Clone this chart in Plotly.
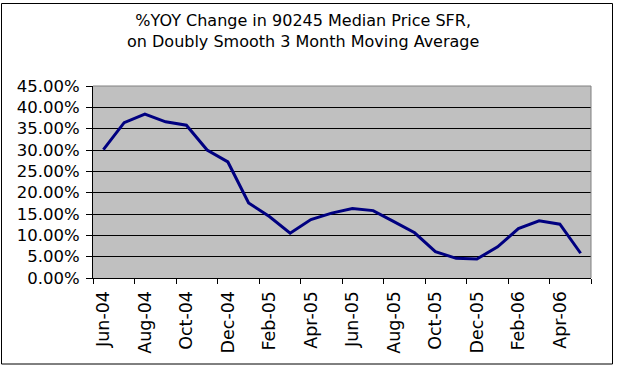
import plotly.graph_objects as go

months = ["Jun-04","Jul-04","Aug-04","Sep-04","Oct-04","Nov-04","Dec-04",
          "Jan-05","Feb-05","Mar-05","Apr-05","May-05","Jun-05","Jul-05",
          "Aug-05","Sep-05","Oct-05","Nov-05","Dec-05","Jan-06","Feb-06",
          "Mar-06","Apr-06","May-06"]
yoy_pct = [30.1, 36.4, 38.4, 36.6, 35.8, 30.0, 27.2, 17.6, 14.4, 10.5, 13.7,
           15.2, 16.3, 15.8, 13.2, 10.6, 6.2, 4.6, 4.45, 7.3, 11.6, 13.4,
           12.6, 5.8]
title_lines = ["%YOY Change in 90245 Median Price SFR,",
               "on Doubly Smooth 3 Month Moving Average"]

W, H = 619, 371
plot_left, plot_right, plot_top, plot_bottom = 93, 591, 86, 278
L = plot_left
T = plot_top
R = W - plot_right
B = H - plot_bottom
pw, ph = plot_right - plot_left, plot_bottom - plot_top


def px(x):
    return (x - plot_left) / pw


def py(y):
    return (plot_bottom - y) / ph


idx = list(range(len(months)))
vals = [v / 100 for v in yoy_pct]

fig = go.Figure(go.Scatter(
    x=idx, y=vals, mode="lines",
    line=dict(color="#000080", width=3),
    hoverinfo="skip"))

fig.update_layout(
    width=W, height=H,
    margin=dict(l=L, r=R, t=T, b=B, pad=0, autoexpand=False),
    paper_bgcolor="white", plot_bgcolor="#C0C0C0",
    showlegend=False,
    font=dict(family="DejaVu Sans", size=16, color="black"),
    xaxis=dict(
        range=[-0.5, len(months) - 0.5],
        tickmode="array",
        tickvals=idx[::2], ticktext=months[::2],
        tickangle=-90, ticks="", ticklen=0,
        showgrid=False, zeroline=False,
        showline=True, linecolor="black", linewidth=1,
        tickfont=dict(family="DejaVu Sans", size=17.5, color="black"),
        ticklabelstandoff=5,
        minor=dict(tickmode="array",
                   tickvals=[i - 0.5 for i in range(0, len(months) + 1, 2)],
                   ticks="outside", ticklen=5, tickcolor="black",
                   tickwidth=1, showgrid=False),
    ),
    yaxis=dict(
        range=[0, 0.45], tickmode="linear", tick0=0, dtick=0.05,
        tickformat=".2%",
        ticks="outside", ticklen=6, tickcolor="black", tickwidth=1,
        showgrid=True, gridcolor="black", gridwidth=1,
        zeroline=False,
        showline=True, linecolor="black", linewidth=1,
        tickfont=dict(family="DejaVu Sans", size=16.5, color="black"),
        ticklabelstandoff=3,
    ),
    annotations=[dict(
        text="<br>".join(title_lines),
        xref="paper", yref="paper",
        x=px(303), y=py(31), xanchor="center", yanchor="middle",
        showarrow=False, align="center",
        font=dict(family="DejaVu Sans", size=16, color="black"))],
    shapes=[
        dict(type="line", xref="paper", yref="paper", x0=0, x1=1, y0=1, y1=1,
             line=dict(color="#808080", width=1), layer="above"),
        dict(type="line", xref="paper", yref="paper", x0=1, x1=1, y0=0, y1=1,
             line=dict(color="#808080", width=1), layer="above"),
        dict(type="rect", xref="paper", yref="paper",
             x0=px(1.5), x1=px(612.5), y0=py(364), y1=py(3.5),
             line=dict(color="black", width=1), fillcolor="rgba(0,0,0,0)",
             layer="above"),
    ],
)

fig.write_html(
    "out.html",
    config={"displayModeBar": False, "staticPlot": True},
    post_script="document.body.style.margin='0';document.body.style.overflow='hidden';",
)
